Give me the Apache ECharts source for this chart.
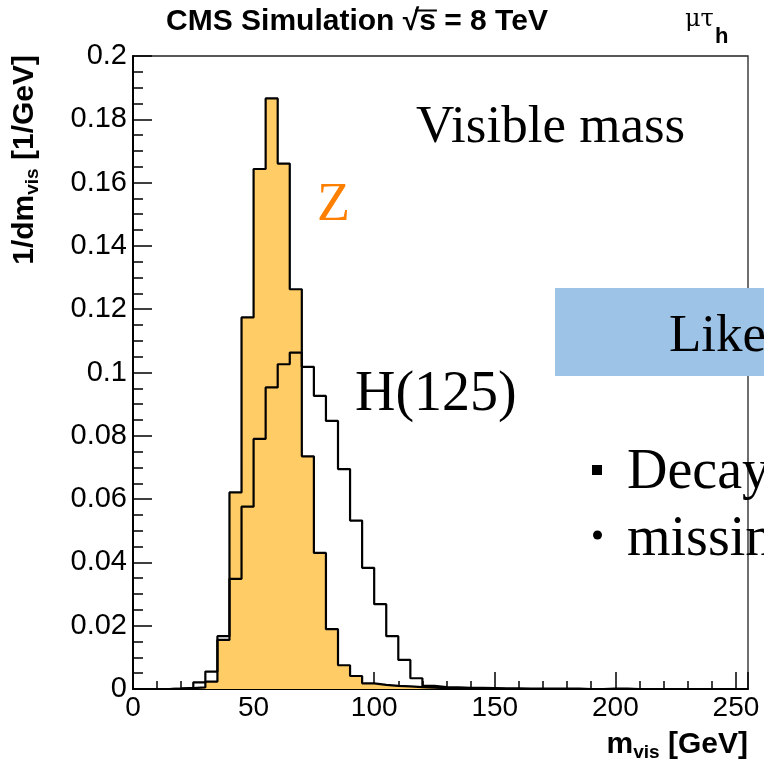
<!DOCTYPE html>
<html><head><meta charset="utf-8">
<script src="https://cdn.jsdelivr.net/npm/echarts@6/dist/echarts.min.js"></script>
<style>html,body{margin:0;padding:0;background:#fff}#c{width:764px;height:771px}</style>
</head><body><div id="c"></div>
<script>
// bin edges (GeV), 5 GeV bins
const binEdges = [0,5,10,15,20,25,30,35,40,45,50,55,60,65,70,75,80,85,90,95,100,105,110,115,120,125,130,135,140,145,150,155,160,165,170,175,180,185,190,195,200,205,210,215,220,225,230,235,240,245,250,255];
// Z -> tautau (filled)
const zValues = [0,0,0,0.0001,0.0003,0.0005,0.0023,0.0155,0.0621,0.1174,0.1643,0.1866,0.1660,0.1263,0.0735,0.0430,0.0189,0.0075,0.0041,0.0018,0.0013,0.0010,0.0008,0.0006,0.0004,0.0003,0.0002,0.0002,0.0001,0.0001,0,0,0,0,0,0,0,0,0,0,0,0,0,0,0,0,0,0,0,0,0];
// H(125) (open)
const hValues = [0,0,0,0.0001,0.0004,0.0021,0.0055,0.0167,0.0348,0.0576,0.0790,0.0953,0.1026,0.1063,0.1018,0.0926,0.0847,0.0695,0.0532,0.0383,0.0268,0.0167,0.0092,0.0034,0.0010,0.0006,0.0005,0.0004,0.0004,0.0003,0.0002,0.0002,0.0001,0.0001,0.0001,0.0001,0.0001,0,0,0.0001,0.0001,0,0,0,0,0,0,0,0,0,0];
const xTicks = [0,50,100,150,200,250];
const yTicks = [0,0.02,0.04,0.06,0.08,0.1,0.12,0.14,0.16,0.18,0.2];

function histData(vals){
  const d = vals.map((v,i)=>[binEdges[i], v]);
  d.push([binEdges[vals.length], 0]);
  return d;
}

const sans = '"Liberation Sans", Arial, sans-serif';
const serif = '"Liberation Serif", "Times New Roman", serif';

// position of the overline over "s" in the title
const titleFont = 'bold 30px ' + sans;
const mctx = document.createElement('canvas').getContext('2d');
mctx.font = titleFont;
const titleText = 'CMS Simulation √s = 8 TeV';
const tW = mctx.measureText(titleText).width;
const tX0 = 357 - tW/2;
const rX = tX0 + mctx.measureText('CMS Simulation ').width;
const rW = mctx.measureText('√').width;
const sW = mctx.measureText('s').width;

const chart = echarts.init(document.getElementById('c'), null, {renderer:'canvas'});
chart.setOption({
  animation:false,
  backgroundColor:'#fff',
  grid:{left:133, right:16, top:56, bottom:82, show:true, borderColor:'#222', borderWidth:1.3, backgroundColor:'transparent'},
  xAxis:{type:'value', min:0, max:255, interval:50,
    axisLine:{show:true, onZero:false, lineStyle:{color:'#000', width:2}},
    axisTick:{show:true, inside:true, length:17, lineStyle:{color:'#000', width:1.5}},
    minorTick:{show:true, splitNumber:5, length:8, lineStyle:{color:'#000', width:1.5}},
    splitLine:{show:false},
    axisLabel:{color:'#000', fontFamily:sans, fontSize:28, margin:5, showMaxLabel:false,
      formatter:v=> xTicks.indexOf(v)>=0 ? String(v) : ''}
  },
  yAxis:{type:'value', min:0, max:0.2, interval:0.02,
    axisLine:{show:true, lineStyle:{color:'#000', width:2}},
    axisTick:{show:true, inside:true, length:19, lineStyle:{color:'#000', width:1.5}},
    minorTick:{show:true, splitNumber:4, length:10, lineStyle:{color:'#000', width:1.5}},
    splitLine:{show:false},
    axisLabel:{color:'#000', fontFamily:sans, fontSize:29, margin:6,
      formatter:v=>{ const r = Number(v.toFixed(2)); return yTicks.some(t=>Math.abs(t-r)<1e-9) ? String(r) : ''; }}
  },
  series:[
    {type:'line', step:'end', data:histData(zValues), showSymbol:false, symbol:'none',
     lineStyle:{color:'#000', width:2.2}, areaStyle:{color:'#FFCC66', opacity:1}, z:2},
    {type:'line', step:'end', data:histData(hValues), showSymbol:false, symbol:'none',
     lineStyle:{color:'#000', width:2.2}, z:3}
  ],
  graphic:[
    {type:'text', x:357, y:22, style:{text:titleText, font:titleFont, fill:'#000', align:'center', verticalAlign:'middle'}},
    {type:'line', shape:{x1:rX + rW*0.75, y1:10.5, x2:rX + rW + sW + 1, y2:10.5}, style:{stroke:'#000', lineWidth:2}},
    {type:'text', x:685, y:20, style:{text:'μτ', fontFamily:'"DejaVu Serif", serif', fontSize:24, fill:'#000', align:'left', verticalAlign:'middle'}},
    {type:'text', x:715, y:37, style:{text:'h', fontFamily:sans, fontWeight:'bold', fontSize:22, fill:'#000', align:'left', verticalAlign:'middle'}},
    {type:'text', x:25, y:55, rotation:Math.PI/2, style:{text:'{a|1/dm}{s|vis}{a| [1/GeV]}', align:'right', verticalAlign:'middle',
      rich:{a:{fontFamily:sans, fontWeight:'bold', fontSize:30, fill:'#000', lineHeight:34}, s:{fontFamily:sans, fontWeight:'bold', fontSize:19, fill:'#000', verticalAlign:'bottom', lineHeight:34}}}},
    {type:'text', x:748, y:745, style:{text:'{a|m}{s|vis}{a| [GeV]}', align:'right', verticalAlign:'middle',
      rich:{a:{fontFamily:sans, fontWeight:'bold', fontSize:30, fill:'#000', lineHeight:34}, s:{fontFamily:sans, fontWeight:'bold', fontSize:19, fill:'#000', verticalAlign:'bottom', lineHeight:34}}}},
    {type:'text', x:416, y:128, style:{text:'Visible mass', fontFamily:serif, fontSize:53, fill:'#000', align:'left', verticalAlign:'middle'}},
    {type:'text', x:317, y:206, style:{text:'Z', fontFamily:serif, fontSize:54, fill:'#FF8000', align:'left', verticalAlign:'middle'}},
    {type:'text', x:355, y:395, style:{text:'H(125)', fontFamily:serif, fontSize:56, fill:'#000', align:'left', verticalAlign:'middle'}},
    {type:'rect', shape:{x:555, y:288, width:209, height:88}, style:{fill:'#9DC3E6'}, z:10},
    {type:'text', x:669, y:337, z:11, style:{text:'Like', fontFamily:serif, fontSize:53, fill:'#000', align:'left', verticalAlign:'middle'}},
    {type:'rect', shape:{x:592, y:465, width:10, height:10}, style:{fill:'#000'}},
    {type:'text', x:627, y:473, style:{text:'Decay', fontFamily:serif, fontSize:56, fill:'#000', align:'left', verticalAlign:'middle'}},
    {type:'circle', shape:{cx:597.5, cy:535, r:4.5}, style:{fill:'#000'}},
    {type:'text', x:627, y:540, style:{text:'missin', fontFamily:serif, fontSize:56, fill:'#000', align:'left', verticalAlign:'middle'}}
  ]
});
</script></body></html>
